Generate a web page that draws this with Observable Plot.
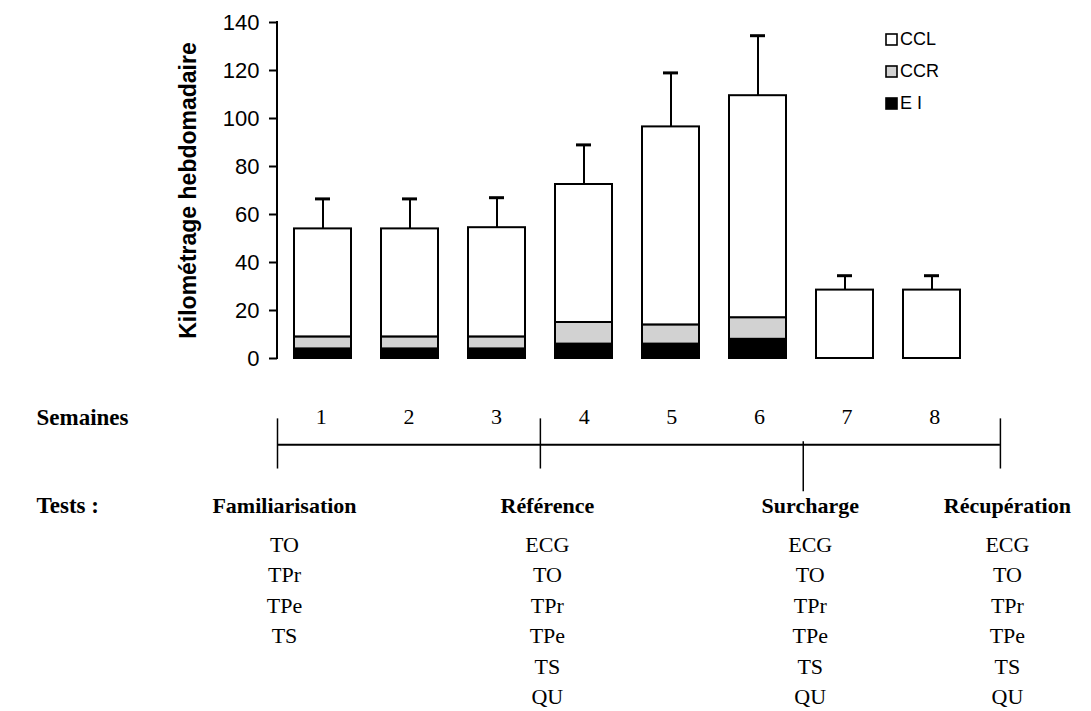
<!DOCTYPE html>
<html>
<head>
<meta charset="utf-8">
<script src="https://cdn.jsdelivr.net/npm/d3@7"></script>
<script src="https://cdn.jsdelivr.net/npm/@observablehq/plot@0.6"></script>
<style>
  body { margin: 0; background: #fff; }
  #wrap { position: relative; width: 1091px; height: 711px; background: #fff; }
  #wrap > svg { display: block; }
  #legend { position: absolute; left: 886px; top: 29px; }
  #legend [class$="-swatch"] { height: 21px; margin-bottom: 10px; align-items: center; }
  #legend [class$="-swatch"] svg { overflow: visible; margin-right: 3px !important; }
  #legend [class$="-swatch"] rect { stroke: #000; stroke-width: 1.6px; }
</style>
</head>
<body>
<div id="wrap"></div>
<script>
// Weekly training volume (km) per week, split by intensity type
const weeks = ["1", "2", "3", "4", "5", "6", "7", "8"];
const ei  = [4, 4, 4, 6, 6, 8, 0, 0];
const ccr = [5, 5, 5, 9, 8, 9, 0, 0];
const ccl = [45, 45, 45.5, 57.5, 82.5, 92.5, 28.5, 28.5];
const sd  = [12.5, 12.5, 12.5, 16.5, 22.5, 25, 6, 6];

const series = ["CCL", "CCR", "E I"];
const seriesFill = ["white", "#d2d2d2", "black"];
const yTicks = [0, 20, 40, 60, 80, 100, 120, 140];
const yLabel = "Kilométrage hebdomadaire";

// Test sessions along the 8-week timeline
const phases = ["Familiarisation", "Référence", "Surcharge", "Récupération"];
const phaseWeek = [0, 3, 6, 8.25];
const phaseTests = [
  ["TO", "TPr", "TPe", "TS"],
  ["ECG", "TO", "TPr", "TPe", "TS", "QU"],
  ["ECG", "TO", "TPr", "TPe", "TS", "QU"],
  ["ECG", "TO", "TPr", "TPe", "TS", "QU"]
];

// ---- stacked bar chart ----
const segments = weeks.flatMap((w, i) => [
  {week: w, type: "E I", km: ei[i]},
  {week: w, type: "CCR", km: ccr[i]},
  {week: w, type: "CCL", km: ccl[i]}
]).filter(d => d.km > 0);

const totals = weeks.map((w, i) => ({week: w, total: ei[i] + ccr[i] + ccl[i], sd: sd[i]}));

const axisLine = (index, {y}, values, dims) => {
  const line = d3.create("svg:line")
    .attr("x1", dims.marginLeft).attr("x2", dims.marginLeft)
    .attr("y1", y(0) + 1).attr("y2", y(140) - 1)
    .attr("stroke", "black").attr("stroke-width", 2);
  return line.node();
};

const chart = Plot.plot({
  width: 1091,
  height: 380,
  marginLeft: 277,
  marginRight: 113,
  marginTop: 22,
  marginBottom: 22,
  style: {fontFamily: "'Liberation Sans', Arial, sans-serif", background: "white", color: "black"},
  x: {type: "band", domain: weeks, paddingInner: 0.34, paddingOuter: 0.17, axis: null},
  y: {domain: [0, 140], axis: null},
  color: {type: "ordinal", domain: series, range: seriesFill},
  marks: [
    Plot.barY(segments, Plot.stackY({
      x: "week", y: "km", fill: "type",
      order: ["E I", "CCR", "CCL"],
      stroke: "black", strokeWidth: 2
    })),
    Plot.ruleX(totals, {x: "week", y1: "total", y2: d => d.total + d.sd, stroke: "black", strokeWidth: 2}),
    Plot.tickY(totals, {x: "week", y: d => d.total + d.sd, stroke: "black", strokeWidth: 3, inset: 21}),
    Plot.axisY({ticks: yTicks, tickSize: 8, tickPadding: 10, strokeWidth: 2, fontSize: 22, label: null}),
    axisLine,
    Plot.text([yLabel], {frameAnchor: "left", textAnchor: "middle", rotate: -90, dx: -89, fontSize: 23, fontWeight: "bold", fill: "black"})
  ]
});

// ---- timeline of weeks and test sessions ----
const ROW = {weeks: -2.9, line: -2.0, head: 0, list: 1.3};
const phaseData = phases.map((name, i) => ({
  name,
  week: phaseWeek[i],
  top: name === "Surcharge" ? -2.1 : -2.85,
  bottom: name === "Surcharge" ? -0.45 : -1.2
}));
const testRows = phaseTests.flatMap((list, i) =>
  list.map((test, k) => ({test, k, week: phaseWeek[i]})));

const timeline = Plot.plot({
  width: 1091,
  height: 331,
  margin: 0,
  style: {fontFamily: "'Liberation Serif', 'Times New Roman', serif", background: "white", color: "black"},
  x: {domain: [-3.1612, 9.2896], axis: null},
  y: {domain: [-4.112, 6.776], reverse: true, axis: null},
  marks: [
    Plot.text(["Semaines"], {x: () => -2.75, y: () => ROW.weeks, textAnchor: "start", fontWeight: "bold", fontSize: 23, fill: "black"}),
    Plot.text(["Tests :"], {x: () => -2.75, y: () => ROW.head, textAnchor: "start", fontWeight: "bold", fontSize: 23, fill: "black"}),
    Plot.text(weeks, {x: d => +d - 0.5, y: () => ROW.weeks, text: d => d, fontSize: 22, fill: "black"}),
    Plot.ruleY([ROW.line], {y: d => d, x1: () => phaseWeek[0], x2: () => phaseWeek[phaseWeek.length - 1], stroke: "black", strokeWidth: 2}),
    Plot.ruleX(phaseData, {x: "week", y1: "top", y2: "bottom", stroke: "black", strokeWidth: 1.5}),
    Plot.text(phaseData, {x: "week", y: () => ROW.head, text: "name", dx: 7, fontWeight: "bold", fontSize: 22, fill: "black"}),
    Plot.text(testRows, {x: "week", y: d => d.k + ROW.list, text: "test", dx: 7, fontSize: 22, fill: "black"})
  ]
});

const wrap = document.getElementById("wrap");
wrap.appendChild(chart);
wrap.appendChild(timeline);

const legend = chart.legend("color", {
  legend: "swatches",
  columns: 1,
  swatchSize: 11,
  style: {fontSize: "18px", fontFamily: "'Liberation Sans', Arial, sans-serif", color: "black"}
});
const legendBox = document.createElement("div");
legendBox.id = "legend";
legendBox.appendChild(legend);
wrap.appendChild(legendBox);
</script>
</body>
</html>
